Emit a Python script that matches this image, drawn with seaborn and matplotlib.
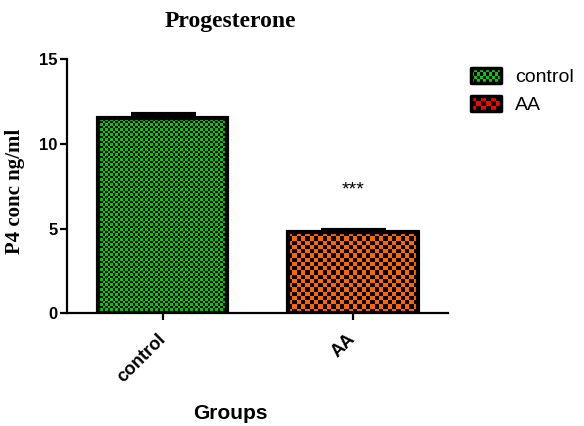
import numpy as np
import pandas as pd
import matplotlib
matplotlib.use("Agg")
import matplotlib.pyplot as plt
import seaborn as sns
from matplotlib.patches import Rectangle, Patch
from matplotlib.legend_handler import HandlerBase
from matplotlib.colors import to_rgb

# ---- data ----
groups = ["control", "AA"]
means = [11.5, 4.77]
sems = [0.26, 0.17]
bar_colors = ["#00CC00", "#FF6600"]
legend_colors = ["#00CC00", "#FF0000"]
yticks = [0, 5, 10, 15]
title = "Progesterone"
ylabel = "P4 conc ng/ml"
xlabel = "Groups"
signif = "***"

sns.set_style("ticks")
plt.rcParams["font.family"] = ["Liberation Sans", "DejaVu Sans"]
plt.rcParams["text.color"] = "black"
plt.rcParams["axes.labelcolor"] = "black"
plt.rcParams["xtick.color"] = "black"
plt.rcParams["ytick.color"] = "black"
plt.rcParams["axes.edgecolor"] = "black"

W, H = 584, 426
fig = plt.figure(figsize=(W / 100, H / 100), dpi=100)
ax = fig.add_axes([66.7 / W, 1 - 313.3 / H, (448 - 66.7) / W, (313.3 - 59) / H])

df = pd.DataFrame({"group": groups, "mean": means})
sns.barplot(data=df, x="group", y="mean", hue="group", palette=bar_colors,
            width=0.68, errorbar=None, legend=False, ax=ax,
            edgecolor="black", linewidth=3.0, zorder=3)

ax.set_xlim(-0.505, 1.50)
ax.set_ylim(0, 15)

# checkerboard textures clipped to each bar
px_x = ax.transData.transform((1, 0))[0] - ax.transData.transform((0, 0))[0]
px_y = ax.transData.transform((0, 1))[1] - ax.transData.transform((0, 0))[1]
cell_px = [2.5, 4.3]
for patch, col, cp in zip(ax.patches, bar_colors, cell_px):
    b = patch.get_bbox()
    wpx = b.width * px_x
    hpx = b.height * px_y
    nx = max(1, int(round(wpx / cp)))
    ny = max(1, int(round(hpx / cp)))
    ii, jj = np.meshgrid(np.arange(nx), np.arange(ny))
    mask = ((ii + jj) % 2 == 0)
    img = np.zeros((ny, nx, 3))
    img[mask] = to_rgb(col)
    im = ax.imshow(img, extent=[b.x0, b.x1, b.y0, b.y1], origin="lower",
                   interpolation="nearest", aspect="auto", zorder=2)
    im.set_clip_path(patch)
    patch.set_facecolor("none")

ax.set_xlim(-0.505, 1.50)
ax.set_ylim(0, 15)

# upper error bars only
ax.errorbar([0, 1], means, yerr=[[0, 0], sems], fmt="none", ecolor="black",
            elinewidth=3, capsize=23.4, capthick=3, zorder=4)

ax.text(1, 7.3, signif, ha="center", va="center", fontsize=14, color="black")

sns.despine(ax=ax)
for s in ["left", "bottom"]:
    ax.spines[s].set_linewidth(1.6)
    ax.spines[s].set_color("black")
ax.set_yticks(yticks)
ax.tick_params(axis="both", width=1.6, length=5, colors="black")
ax.tick_params(axis="y", pad=1.5, labelsize=12)
ax.tick_params(axis="x", pad=12, labelsize=13)
for lab in ax.get_yticklabels():
    lab.set_fontweight("bold")
ax.set_xticks([0, 1])
ax.set_xticklabels(groups, rotation=45, ha="right", va="center",
                   rotation_mode="anchor", fontweight="bold", fontsize=13)

ax.set_xlabel(xlabel, fontsize=15, fontweight="bold")
ax.xaxis.set_label_coords(0.43, -0.355)
ax.set_ylabel(ylabel, fontsize=15, fontweight="bold", family="Liberation Serif")
ax.yaxis.set_label_coords(-0.109, 0.48)
ax.set_title(title, fontsize=17, fontweight="bold", family="Liberation Serif",
             x=0.428, pad=23, color="black")


class CheckerHandler(HandlerBase):
    def __init__(self, color, nx, ny):
        super().__init__()
        self.color = color
        self.nx = nx
        self.ny = ny

    def create_artists(self, legend, orig_handle, xdescent, ydescent,
                       width, height, fontsize, trans):
        x0, y0 = -xdescent, -ydescent
        arts = [Rectangle((x0, y0), width, height, facecolor="black",
                          edgecolor="none", transform=trans)]
        cw, ch = width / self.nx, height / self.ny
        for i in range(self.nx):
            for j in range(self.ny):
                if (i + j) % 2 == 0:
                    arts.append(Rectangle((x0 + i * cw, y0 + j * ch), cw, ch,
                                          facecolor=self.color, edgecolor="none",
                                          transform=trans))
        arts.append(Rectangle((x0, y0), width, height, facecolor="none",
                              edgecolor="black", linewidth=2.5,
                              joinstyle="round", transform=trans))
        return arts


handles = [Patch(label=g) for g in groups]
handler_map = {handles[0]: CheckerHandler(legend_colors[0], 10, 4),
               handles[1]: CheckerHandler(legend_colors[1], 6, 3)}
fig.legend(handles=handles, labels=groups, handler_map=handler_map,
           loc="upper left", bbox_to_anchor=(471 / W, 1 - 68 / H),
           bbox_transform=fig.transFigure, frameon=False, fontsize=14,
           handlelength=1.54, handleheight=0.82, handletextpad=0.72,
           labelspacing=0.5, borderpad=0, borderaxespad=0)

fig.savefig("out.png", dpi=100)
